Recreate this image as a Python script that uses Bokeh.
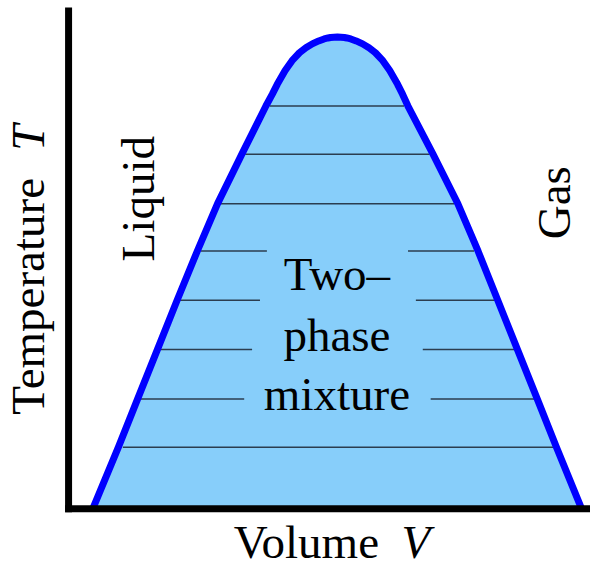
from bokeh.plotting import figure
from bokeh.models import Range1d
from bokeh.core.properties import value
from bokeh.embed import file_html
from bokeh.resources import INLINE
import math

# Coexistence curve (Volume V, Temperature T)
curve_V = [0.49, 1.01, 1.40, 1.80, 2.20, 2.61, 3.02, 3.51, 4.00, 4.13, 4.23, 4.39,
           4.53, 4.68, 4.81, 4.94, 5.07, 5.18, 5.26, 5.31, 5.45, 5.59, 5.64, 5.72,
           5.83, 5.96, 6.09, 6.22, 6.37, 6.51, 6.67, 6.77, 6.88, 7.39, 7.89, 8.30,
           8.70, 9.10, 9.50, 9.89, 10.40]
curve_T = [0.00, 1.25, 2.23, 3.23, 4.23, 5.23, 6.19, 7.19, 8.17, 8.41, 8.61, 8.89,
           9.09, 9.25, 9.35, 9.43, 9.49, 9.53, 9.55, 9.56, 9.57, 9.56, 9.55, 9.53,
           9.49, 9.43, 9.35, 9.25, 9.09, 8.89, 8.61, 8.41, 8.17, 7.19, 6.19, 5.23,
           4.23, 3.23, 2.23, 1.25, 0.00]

# Tie lines (segments inside the two-phase region)
tie_T  = [8.17, 7.19, 6.19, 5.23, 5.23, 4.23, 4.23, 3.23, 3.23, 2.23, 2.23, 1.25]
tie_V0 = [4.08, 3.58, 3.08, 2.68, 6.88, 2.26, 7.04, 1.86, 7.18, 1.44, 7.34, 1.10]
tie_V1 = [6.80, 7.32, 7.82, 4.02, 8.22, 3.88, 8.64, 3.72, 9.04, 3.56, 9.46, 9.82]

# Axes extents
V_max = 10.58
T_max = 10.17

# Labels
region_labels = ["Liquid", "Gas"]
region_V = [1.41, 9.83]
region_T = [6.29, 6.21]

mix_labels = ["Two\u2013", "phase", "mixture"]
mix_V = [5.44, 5.44, 5.44]
mix_T = [4.76, 3.52, 2.32]

FONT = value("Liberation Serif")
SIZE = value("47px")

p = figure(width=590, height=569, output_backend="svg", toolbar_location=None,
           x_range=Range1d(-1.38, 10.58), y_range=Range1d(-1.23, 10.31),
           min_border=0, min_border_left=0, min_border_right=0,
           min_border_top=0, min_border_bottom=0)
p.xaxis.visible = False
p.yaxis.visible = False
p.grid.visible = False
p.outline_line_color = None
p.background_fill_color = "white"
p.border_fill_color = "white"

# filled two-phase region
p.patch(curve_V, curve_T, fill_color="#87CEFA", line_color=None)

# tie lines
p.segment(x0=tie_V0, y0=tie_T, x1=tie_V1, y1=tie_T, line_color="#2b3d4f", line_width=1.5)

# coexistence curve
p.line(curve_V, curve_T, line_color="#0000FF", line_width=7, line_join="round")

# axes
p.line([0, 0], [-0.07, T_max], line_color="black", line_width=7)
p.line([-0.07, V_max], [0, 0], line_color="black", line_width=7)

# region labels (rotated)
p.text(x=region_V, y=region_T, text=region_labels, angle=math.pi / 2,
       text_font=FONT, text_font_size=SIZE, text_align="center",
       text_baseline="alphabetic", text_color="black")

# two-phase mixture label
p.text(x=mix_V, y=mix_T, text=mix_labels,
       text_font=FONT, text_font_size=SIZE, text_align="center",
       text_baseline="alphabetic", text_color="black")

# axis titles
p.text(x=[-0.82], y=[4.31], text=["Temperature"], angle=math.pi / 2,
       text_font=FONT, text_font_size=SIZE, text_align="center",
       text_baseline="alphabetic", text_color="black")
p.text(x=[-0.82], y=[7.53], text=["T"], angle=math.pi / 2,
       text_font=FONT, text_font_size=SIZE, text_font_style="italic",
       text_align="center", text_baseline="alphabetic", text_color="black")
p.text(x=[4.82], y=[-0.67], text=["Volume"],
       text_font=FONT, text_font_size=SIZE, text_align="center",
       text_baseline="alphabetic", text_color="black")
p.text(x=[7.04], y=[-0.67], text=["V"],
       text_font=FONT, text_font_size=SIZE, text_font_style="italic",
       text_align="center", text_baseline="alphabetic", text_color="black")

open("out.html", "w").write(file_html(p, INLINE))
